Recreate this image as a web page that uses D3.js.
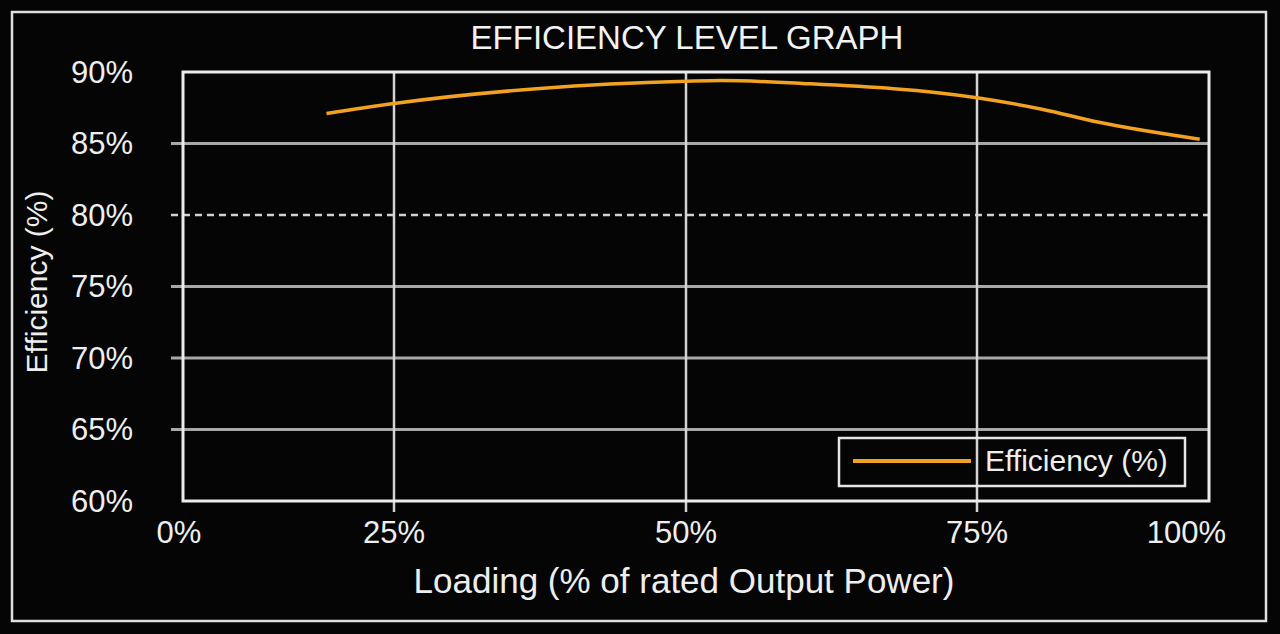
<!DOCTYPE html>
<html>
<head>
<meta charset="utf-8">
<script src="https://cdn.jsdelivr.net/npm/d3@7"></script>
<style>
    html, body { margin: 0; padding: 0; background: #050505; }
    svg { display: block; font-family: 'Liberation Sans', Arial, Helvetica, sans-serif; }
</style>
</head>
<body>
<svg id="chart"></svg>
<script>
(function() {
    'use strict';

    // data
    var loading = [17, 25, 37.5, 50, 53, 60, 75, 82, 88, 99];
    var efficiency = [87.1, 87.8, 88.85, 89.35, 89.4, 89.2, 88.2, 87.4, 86.5, 85.3];
    var xTickValues = [0, 25, 50, 75, 100];
    var yTickValues = [60, 65, 70, 75, 80, 85, 90];
    var dashedValue = 80;
    var title = 'EFFICIENCY LEVEL GRAPH';
    var xTitle = 'Loading (% of rated Output Power)';
    var yTitle = 'Efficiency (%)';
    var seriesName = 'Efficiency (%)';

    var options = {
        width: 1280,
        height: 634,
        plot: { left: 183, right: 1209, top: 72, bottom: 501 },
        tickFont: 31,
        lineColor: '#f2a220'
    };

    var svg = d3.select('#chart')
        .attr('width', options.width)
        .attr('height', options.height);

    svg.append('rect')
        .attr('width', options.width)
        .attr('height', options.height)
        .attr('fill', '#050505');

    // outer frame
    svg.append('rect')
        .attr('x', 12).attr('y', 12)
        .attr('width', 1254).attr('height', 609)
        .attr('fill', 'none')
        .attr('stroke', '#e0e0e0')
        .attr('stroke-width', 2.5);

    // the x axis of the original is not evenly spaced
    var x = d3.scaleLinear()
        .domain(xTickValues)
        .range([options.plot.left, 394, 686, 977, options.plot.right]);

    var y = d3.scaleLinear()
        .domain([60, 90])
        .range([options.plot.bottom, options.plot.top]);

    /**
     * Horizontal grid lines (with a short tick to the left)
     */
    var inner = yTickValues.filter(function(v) { return v > 60 && v < 90; });

    svg.append('g')
        .selectAll('line')
        .data(inner)
        .enter().append('line')
        .attr('x1', options.plot.left - 12)
        .attr('x2', options.plot.right)
        .attr('y1', function(d) { return y(d); })
        .attr('y2', function(d) { return y(d); })
        .attr('stroke', function(d) { return d === dashedValue ? '#d0d0d0' : '#a8a8a8'; })
        .attr('stroke-width', function(d) { return d === dashedValue ? 2.5 : 3; })
        .attr('stroke-dasharray', function(d) { return d === dashedValue ? '7,5' : null; });

    // vertical grid lines
    svg.append('g')
        .selectAll('line')
        .data(xTickValues.filter(function(v) { return v > 0 && v < 100; }))
        .enter().append('line')
        .attr('x1', function(d) { return x(d); })
        .attr('x2', function(d) { return x(d); })
        .attr('y1', options.plot.top)
        .attr('y2', options.plot.bottom + 11)
        .attr('stroke', '#d4d4d4')
        .attr('stroke-width', 2.5);

    // plot frame
    svg.append('rect')
        .attr('x', options.plot.left)
        .attr('y', options.plot.top)
        .attr('width', options.plot.right - options.plot.left)
        .attr('height', options.plot.bottom - options.plot.top)
        .attr('fill', 'none')
        .attr('stroke', '#ececec')
        .attr('stroke-width', 3);

    // y tick labels
    svg.append('g')
        .selectAll('text')
        .data(yTickValues)
        .enter().append('text')
        .attr('x', 133)
        .attr('y', function(d) { return y(d); })
        .attr('dy', '0.35em')
        .attr('text-anchor', 'end')
        .style('font-size', options.tickFont + 'px')
        .style('fill', '#eeeeee')
        .text(function(d) { return d + '%'; });

    // x tick labels, the last one is pulled inside the frame
    svg.append('g')
        .selectAll('text')
        .data(xTickValues)
        .enter().append('text')
        .attr('x', function(d, i) {
            return i === xTickValues.length - 1 ? x(d) + 17 : x(d) - (i === 0 ? 4 : 0);
        })
        .attr('y', 543)
        .attr('text-anchor', function(d, i) { return i === xTickValues.length - 1 ? 'end' : 'middle'; })
        .style('font-size', options.tickFont + 'px')
        .style('fill', '#eeeeee')
        .text(function(d) { return d + '%'; });

    // titles
    svg.append('text')
        .attr('x', 687)
        .attr('y', 49)
        .attr('text-anchor', 'middle')
        .style('font-size', '33px')
        .style('fill', '#f2f2f2')
        .text(title);

    svg.append('text')
        .attr('x', 684)
        .attr('y', 593)
        .attr('text-anchor', 'middle')
        .style('font-size', '35px')
        .style('fill', '#eeeeee')
        .text(xTitle);

    svg.append('text')
        .attr('transform', 'translate(47,' + 282 + ') rotate(-90)')
        .attr('text-anchor', 'middle')
        .style('font-size', '30px')
        .style('fill', '#eeeeee')
        .text(yTitle);

    // the curve
    var line = d3.line()
        .x(function(d) { return x(d[0]); })
        .y(function(d) { return y(d[1]); })
        .curve(d3.curveMonotoneX);

    svg.append('path')
        .datum(d3.zip(loading, efficiency))
        .attr('d', line)
        .attr('fill', 'none')
        .attr('stroke', options.lineColor)
        .attr('stroke-width', 3.5);

    // legend
    var legend = svg.append('g').attr('class', 'legend');

    legend.append('rect')
        .attr('x', 839).attr('y', 438)
        .attr('width', 346).attr('height', 48)
        .attr('fill', 'none')
        .attr('stroke', '#e6e6e6')
        .attr('stroke-width', 2.5);

    legend.append('line')
        .attr('x1', 853).attr('x2', 971)
        .attr('y1', 461).attr('y2', 461)
        .attr('stroke', options.lineColor)
        .attr('stroke-width', 4);

    legend.append('text')
        .attr('x', 985)
        .attr('y', 471)
        .style('font-size', '30px')
        .style('fill', '#eeeeee')
        .text(seriesName);
})();
</script>
</body>
</html>
